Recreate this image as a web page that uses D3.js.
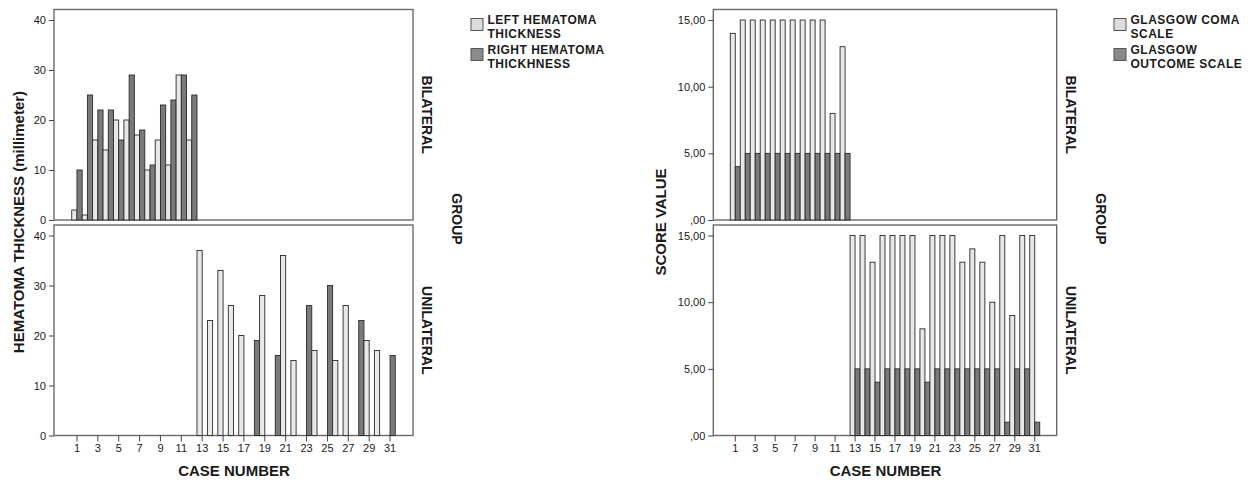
<!DOCTYPE html>
<html>
<head>
<meta charset="utf-8">
<script src="https://cdn.jsdelivr.net/npm/d3@7"></script>
<style>
  body { margin: 0; background: #fff; }
  text { font-family: "Liberation Sans", Arial, sans-serif; fill: #1a1a1a; }
  .tick text { font-size: 11px; }
  .tick line { stroke: #444; }
  .aTitle { font-size: 15px; font-weight: bold; }
  .rowText { font-size: 14px; font-weight: bold; }
  .legendText { font-size: 12px; font-weight: bold; letter-spacing: 0.5px; }
</style>
</head>
<body>
<div id="chart"></div>
<script>
// SVG area
var svgWidth = 1252;
var svgHeight = 481;

// case numbers (x categories)
var caseNumbers = [1, 2, 3, 4, 5, 6, 7, 8, 9, 10, 11, 12, 13, 14, 15, 16, 17, 18, 19, 20,
  21, 22, 23, 24, 25, 26, 27, 28, 29, 30, 31];
var bilateralCases = [1, 2, 3, 4, 5, 6, 7, 8, 9, 10, 11, 12];
var unilateralCases = [13, 14, 15, 16, 17, 18, 19, 20, 21, 22, 23, 24, 25, 26, 27, 28, 29, 30, 31];
var xTickCases = [1, 3, 5, 7, 9, 11, 13, 15, 17, 19, 21, 23, 25, 27, 29, 31];
var groups = ["BILATERAL", "UNILATERAL"];

// hematoma thickness (millimeter)
var leftHematomaBilateral = [2, 1, 16, 14, 20, 20, 17, 10, 16, 11, 29, 16];
var rightHematomaBilateral = [10, 25, 22, 22, 16, 29, 18, 11, 23, 24, 29, 25];
var leftHematomaUnilateral = [37, 23, 33, 26, 20, null, 28, null, 36, 15, null, 17, null, 15, 26, null, 19, 17, null];
var rightHematomaUnilateral = [null, null, null, null, null, 19, null, 16, null, null, 26, null, 30, null, null, 23, null, null, 16];
var hematomaTicks = [0, 10, 20, 30, 40];

// glasgow scores
var gcsBilateral = [14, 15, 15, 15, 15, 15, 15, 15, 15, 15, 8, 13];
var gosBilateral = [4, 5, 5, 5, 5, 5, 5, 5, 5, 5, 5, 5];
var gcsUnilateral = [15, 15, 13, 15, 15, 15, 15, 8, 15, 15, 15, 13, 14, 13, 10, 15, 9, 15, 15];
var gosUnilateral = [5, 5, 4, 5, 5, 5, 5, 4, 5, 5, 5, 5, 5, 5, 5, 1, 5, 5, 1];
var scoreTicks = [0, 5, 10, 15];

var lightFill = "#e8e8e8";
var darkFill = "#7a7a7a";

var svg = d3.select("#chart")
  .append("svg")
  .attr("width", svgWidth)
  .attr("height", svgHeight);

// panel rows (top = bilateral, bottom = unilateral)
var panels = [
  { top: 9.5, bottom: 220 },
  { top: 225, bottom: 435.5 }
];

function toRows(cases, a, b) {
  var rows = [];
  cases.forEach(function(c, i) {
    if (a[i] != null) rows.push({ c: c, s: "a", v: a[i] });
    if (b[i] != null) rows.push({ c: c, s: "b", v: b[i] });
  });
  return rows;
}

function drawChart(cfg) {
  var x = d3.scaleBand()
    .domain(caseNumbers)
    .range([cfg.left, cfg.right])
    .paddingOuter(1.7)
    .paddingInner(0);

  var sub = d3.scaleBand()
    .domain(["a", "b"])
    .range([0, x.bandwidth()]);

  var g = svg.append("g");

  cfg.data.forEach(function(rows, p) {
    var pan = panels[p];
    var y = d3.scaleLinear()
      .domain([0, cfg.yMax])
      .range([pan.bottom, pan.top]);

    // panel frame
    g.append("rect")
      .attr("x", cfg.left)
      .attr("y", pan.top)
      .attr("width", cfg.right - cfg.left)
      .attr("height", pan.bottom - pan.top)
      .attr("fill", "none")
      .attr("stroke", "#6a6a6a")
      .attr("stroke-width", 1.4);

    // bars
    g.selectAll(null)
      .data(rows)
      .enter()
      .append("rect")
      .attr("x", d => x(d.c) + sub(d.s))
      .attr("y", d => y(d.v))
      .attr("width", sub.bandwidth())
      .attr("height", d => y(0) - y(d.v))
      .attr("fill", d => d.s === "a" ? lightFill : darkFill)
      .attr("stroke", "#2a2a2a")
      .attr("stroke-width", 0.9);

    // y axis
    var yAxis = g.append("g")
      .attr("transform", `translate(${cfg.left}, 0)`)
      .call(d3.axisLeft(y).tickValues(cfg.ticks).tickSize(5).tickSizeOuter(0).tickFormat(cfg.fmt));
    yAxis.select(".domain").remove();

    // row label
    g.append("text")
      .attr("class", "rowText")
      .attr("transform", `translate(${cfg.right + 14}, ${(pan.top + pan.bottom) / 2}) rotate(90)`)
      .attr("text-anchor", "middle")
      .attr("dy", "0.35em")
      .text(groups[p]);
  });

  // x axis on bottom panel
  var xAxis = g.append("g")
    .attr("transform", `translate(0, ${panels[1].bottom})`)
    .call(d3.axisBottom(x).tickValues(xTickCases).tickSize(6).tickSizeOuter(0).tickPadding(3));
  xAxis.select(".domain").remove();

  // GROUP label
  g.append("text")
    .attr("class", "rowText")
    .attr("transform", `translate(${cfg.right + 44}, 219) rotate(90)`)
    .attr("text-anchor", "middle")
    .attr("dy", "0.35em")
    .text("GROUP");

  // y title
  g.append("text")
    .attr("class", "aTitle")
    .attr("transform", `translate(${cfg.yTitleX}, 222) rotate(-90)`)
    .attr("text-anchor", "middle")
    .attr("dy", "0.35em")
    .text(cfg.yTitle);

  // x title
  g.append("text")
    .attr("class", "aTitle")
    .attr("x", (cfg.left + cfg.right) / 2 + 0.5)
    .attr("y", 476)
    .attr("text-anchor", "middle")
    .text("CASE NUMBER");

  // legend (two-line labels)
  cfg.legend.forEach(function(item, i) {
    var ly = 18.5 + i * 30;
    g.append("rect")
      .attr("x", cfg.legendX)
      .attr("y", ly)
      .attr("width", 12)
      .attr("height", 12)
      .attr("fill", i === 0 ? "#dcdcdc" : "#8a8a8a")
      .attr("stroke", "#555")
      .attr("stroke-width", 1);
    item.forEach(function(line, j) {
      g.append("text")
        .attr("class", "legendText")
        .attr("x", cfg.legendX + 16.5)
        .attr("y", ly + 5.8 + j * 13.4)
        .text(line);
    });
  });
}

drawChart({
  left: 54,
  right: 413,
  yMax: 42.1,
  ticks: hematomaTicks,
  fmt: d3.format("d"),
  yTitle: "HEMATOMA THICKNESS (millimeter)",
  yTitleX: 19,
  legendX: 471,
  legend: [["LEFT HEMATOMA", "THICKNESS"], ["RIGHT HEMATOMA", "THICKHNESS"]],
  data: [
    toRows(bilateralCases, leftHematomaBilateral, rightHematomaBilateral),
    toRows(unilateralCases, leftHematomaUnilateral, rightHematomaUnilateral)
  ]
});

drawChart({
  left: 713.3,
  right: 1056.7,
  yMax: 15.79,
  ticks: scoreTicks,
  fmt: d => d3.format(".2f")(d).replace(".", ",").replace(/^0,/, ","),
  yTitle: "SCORE VALUE",
  yTitleX: 661,
  legendX: 1114,
  legend: [["GLASGOW COMA", "SCALE"], ["GLASGOW", "OUTCOME SCALE"]],
  data: [
    toRows(bilateralCases, gcsBilateral, gosBilateral),
    toRows(unilateralCases, gcsUnilateral, gosUnilateral)
  ]
});
</script>
</body>
</html>
